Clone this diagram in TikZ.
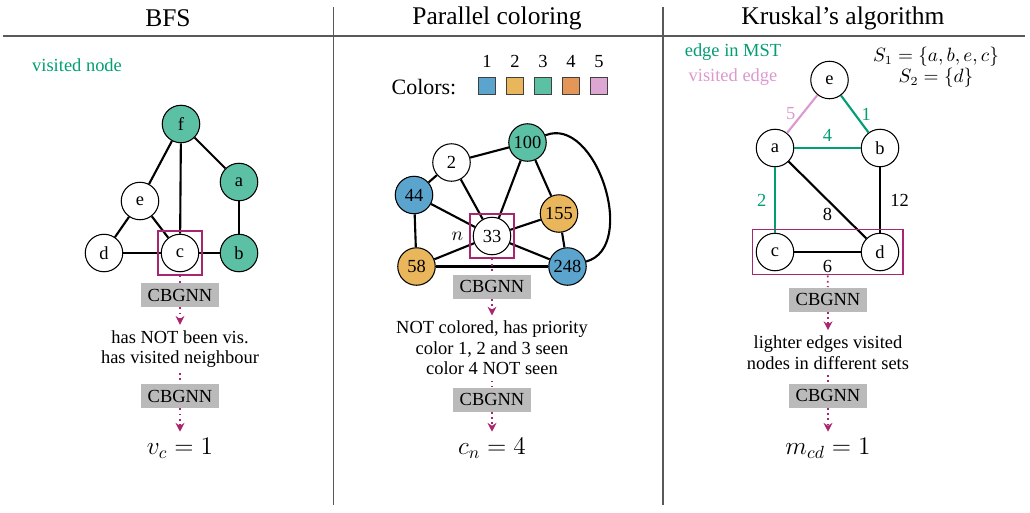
\documentclass[tikz,border=0pt]{standalone}
\usepackage{fontspec}
\setmainfont{Liberation Serif}
\usepackage{amsmath}
\usepackage{xcolor}
\usetikzlibrary{arrows.meta,positioning,fit}
\definecolor{mstgreen}{RGB}{2,158,115}
\definecolor{visitpink}{RGB}{221,152,207}
\definecolor{focusmagenta}{RGB}{168,38,112}
\definecolor{colblue}{RGB}{90,164,205}
\definecolor{colyellow}{RGB}{233,182,92}
\definecolor{colgreen}{RGB}{91,192,164}
\definecolor{colorange}{RGB}{228,150,89}
\definecolor{colpink}{RGB}{222,167,211}

\begin{document}
\begin{tikzpicture}[font=\fontsize{10.5}{12.6}\selectfont,
	vertex/.style={draw, circle, line width=0.6pt, minimum size=0.75cm, inner sep=0pt},
	edge/.style={line width=1.2pt},
	title/.style={font=\fontsize{14.5}{17}\selectfont},
	gnnbox/.style={fill=black!27, minimum width=1.56cm, minimum height=0.48cm, inner sep=0pt},
	focus/.style={draw=focusmagenta, line width=0.8pt, inner sep=1.5pt},
	flow/.style={focusmagenta, dotted, line width=1pt},
	flowarrow/.style={flow, -{Stealth[length=5pt,width=5pt]}},
	explain/.style={align=center, font=\fontsize{10.5}{11.6}\selectfont, inner sep=3pt},
	result/.style={font=\fontsize{14}{16}\selectfont},
	sep/.style={black!65, line width=0.8pt},
	swatch/.style={draw=black!75, line width=0.8pt, minimum size=0.34cm, inner sep=0pt}]
				\useasboundingbox (0,0) rectangle (20.6,-10.24);
				
				% Draw panel separators
				\draw[sep] (0.06,-0.72) -- (20.5,-0.72);
				\draw[sep] (6.67,-0.14) -- (6.67,-10.1);
				\draw[sep] (13.26,-0.14) -- (13.26,-10.1);
				
				% Titles
				\node[title] (bfstitle) at (3.36,-0.36) {BFS};
				\node[title] (coltitle) at (9.94,-0.36) {Parallel coloring};
				\node[title] (krustitle) at (16.86,-0.36) {Kruskal's algorithm};
				
				% BFS graph
				\node[anchor=west, text=mstgreen] (bfskey) at (0.52,-1.3) {visited node};
				\node[vertex, fill=colgreen] (f1) at (3.62,-2.48) {f};
				\node[vertex, fill=colgreen] (a1) at (4.78,-3.64) {a};
				\node[vertex] (e1) at (2.8,-4.02) {e};
				\node[vertex] (d1) at (2.08,-5.06) {d};
				\node[vertex] (c1) at (3.6,-5.06) {c};
				\node[vertex, fill=colgreen] (b1) at (4.78,-5.06) {b};
				\draw[edge] (f1) -- (e1);
				\draw[edge] (f1) -- (c1);
				\draw[edge] (f1) -- (a1);
				\draw[edge] (a1) -- (b1);
				\draw[edge] (e1) -- (d1);
				\draw[edge] (e1) -- (c1);
				\draw[edge] (d1) -- (c1);
				\draw[edge] (c1) -- (b1);
				\node[focus, fit=(c1)] (bfsfocus) {};
				
				% BFS steps
				\node[gnnbox] (gnn1a) at (3.6,-5.9) {CBGNN};
				\node[explain] (bfsrule) at (3.6,-6.98) {has NOT been vis.\\has visited neighbour};
				\node[gnnbox] (gnn1b) at (3.6,-7.92) {CBGNN};
				\node[result] (bfsout) at (3.6,-8.96) {$v_c = 1$};
				\draw[flow] (bfsfocus) -- (gnn1a);
				\draw[flowarrow] (gnn1a) -- (bfsrule);
				\draw[flow] (bfsrule) -- (gnn1b);
				\draw[flowarrow] (gnn1b) -- (bfsout);
				
				% Color legend
				\node[font=\fontsize{12.5}{15}\selectfont] (colorslbl) at (8.48,-1.74) {Colors:};
				\foreach \i/\c in {1/colblue,2/colyellow,3/colgreen,4/colorange,5/colpink}
				{
					\node[swatch, fill=\c] (sw\i) at ({9.74+0.56*(\i-1)},-1.72) {};
					\node[above=1.5pt of sw\i] (swnum\i) {\i};
				}
				
				% Coloring graph
				\node[vertex] (p2) at (9.03,-3.25) {2};
				\node[vertex, fill=colgreen] (p100) at (10.55,-2.85) {100};
				\node[vertex, fill=colblue] (p44) at (8.28,-3.9) {44};
				\node[vertex, fill=colyellow] (p155) at (11.18,-4.27) {155};
				\node[vertex] (p33) at (9.84,-4.72) {33};
				\node[vertex, fill=colyellow] (p58) at (8.33,-5.33) {58};
				\node[vertex, fill=colblue] (p248) at (11.35,-5.33) {248};
				\draw[edge] (p2) -- (p100);
				\draw[edge] (p2) -- (p44);
				\draw[edge] (p2) -- (p33);
				\draw[edge] (p100) -- (p33);
				\draw[edge] (p100) -- (p155);
				\draw[edge] (p44) -- (p33);
				\draw[edge] (p44) -- (p58);
				\draw[edge] (p155) -- (p33);
				\draw[edge] (p155) -- (p248);
				\draw[edge] (p33) -- (p58);
				\draw[edge] (p33) -- (p248);
				\draw[edge] (p58) -- (p248);
				\draw[edge] (p100) to[out=22, in=15, looseness=1.05] (p248);
				\node[focus, fit=(p33)] (colfocus) {};
				\node[left=0pt of colfocus] (nlbl) {$n$};
				
				% Coloring steps
				\node[gnnbox] (gnn2a) at (9.84,-5.73) {CBGNN};
				\node[explain] (colrule) at (9.84,-6.96) {NOT colored, has priority\\color 1, 2 and 3 seen\\color 4 NOT seen};
				\node[gnnbox] (gnn2b) at (9.84,-7.99) {CBGNN};
				\node[result] (colout) at (9.84,-8.96) {$c_n = 4$};
				\draw[flow] (colfocus) -- (gnn2a);
				\draw[flowarrow] (gnn2a) -- (colrule);
				\draw[flow] (colrule) -- (gnn2b);
				\draw[flowarrow] (gnn2b) -- (colout);
				
				% Kruskal graph
				\node[text=mstgreen] (mstkey) at (14.66,-1.04) {edge in MST};
				\node[text=visitpink] (visitkey) at (14.66,-1.55) {visited edge};
				\node[align=center, font=\fontsize{10.5}{12}\selectfont] (sets) at (18.72,-1.35) {$S_1 = \{a,b,e,c\}$\\$S_2 = \{d\}$};
				\node[vertex] (e3) at (16.59,-1.6) {e};
				\node[vertex] (a3) at (15.5,-2.96) {a};
				\node[vertex] (b3) at (17.6,-2.96) {b};
				\node[vertex] (c3) at (15.5,-5.04) {c};
				\node[vertex] (d3) at (17.6,-5.04) {d};
				\draw[edge, visitpink] (e3) -- node[left] {5} (a3);
				\draw[edge, mstgreen] (e3) -- node[right] {1} (b3);
				\draw[edge, mstgreen] (a3) -- node[above] {4} (b3);
				\draw[edge, mstgreen] (a3) -- node[left=1pt] {2} (c3);
				\draw[edge] (a3) -- node[below=1pt] {8} (d3);
				\draw[edge] (b3) -- node[right=2pt] {12} (d3);
				\draw[edge] (c3) -- node[below=1pt] {6} (d3);
				\node[focus, fit=(c3)(d3), inner sep=2pt] (krusfocus) {};
				
				% Kruskal steps
				\node[gnnbox] (gnn3a) at (16.56,-5.99) {CBGNN};
				\node[explain] (krusrule) at (16.56,-7.05) {lighter edges visited\\nodes in different sets};
				\node[gnnbox] (gnn3b) at (16.56,-7.91) {CBGNN};
				\node[result] (krusout) at (16.56,-8.96) {$m_{cd} = 1$};
				\draw[flow] (krusfocus) -- (gnn3a);
				\draw[flowarrow] (gnn3a) -- (krusrule);
				\draw[flow] (krusrule) -- (gnn3b);
				\draw[flowarrow] (gnn3b) -- (krusout);
			\end{tikzpicture}
\end{document}
